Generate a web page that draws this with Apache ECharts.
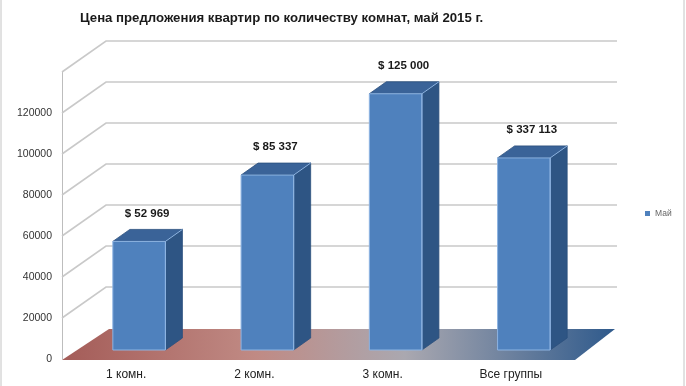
<!DOCTYPE html>
<html>
<head>
<meta charset="utf-8">
<script src="https://cdn.jsdelivr.net/npm/echarts@6/dist/echarts.min.js"></script>
<style>html,body{margin:0;padding:0;background:#fff}#c{width:686px;height:386px}</style>
</head>
<body>
<div id="c"></div>
<script>
var categories = ['1 комн.', '2 комн.', '3 комн.', 'Все группы'];
var values = [52969, 85337, 125000, 93700];
var valueLabels = ['$ 52 969', '$ 85 337', '$ 125 000', '$ 337 113'];
var yTicks = [0, 20000, 40000, 60000, 80000, 100000, 120000, 140000];
var seriesName = 'Май';
var titleText = 'Цена предложения квартир по количеству комнат, май 2015 г.';

var DX = 44, DY = -31;       // depth of the floor / walls
var BX = 13, BY = -9;        // bar front offset
var SX = 17, SY = -12;       // bar depth
var FONT = "'Liberation Sans', Arial, sans-serif";

var chart = echarts.init(document.getElementById('c'), null, {renderer: 'canvas'});

var option = {
  backgroundColor: '#fff',
  animation: false,
  title: {
    text: titleText,
    left: 75, top: 7,
    textStyle: {fontSize: 13.2, fontWeight: 'bold', color: '#1a1a1a', fontFamily: FONT}
  },
  legend: {
    data: [{name: seriesName, icon: 'rect', itemStyle: {color: '#4f81bd'}}],
    left: 640, top: 204,
    itemWidth: 5, itemHeight: 5, itemGap: 3,
    textStyle: {fontSize: 8.5, color: '#666', fontFamily: FONT}
  },
  graphic: [{
    type: 'rect', shape: {x: 1, y: -5, width: 683, height: 400},
    style: {fill: 'none', stroke: '#c4c4c4', lineWidth: 1}, silent: true
  }],
  grid: {left: 62, right: 111, top: 72, bottom: 27},
  xAxis: {
    type: 'category', data: categories,
    axisLine: {show: false}, axisTick: {show: false},
    axisLabel: {fontSize: 12, color: '#222', margin: 10, fontFamily: FONT}
  },
  yAxis: {
    type: 'value', min: 0, max: 140000, interval: 20000,
    axisLine: {show: true, lineStyle: {color: '#bdbdbd', width: 1}},
    axisTick: {show: false},
    splitLine: {show: false},
    axisLabel: {
      fontSize: 10.5, color: '#333', margin: 10, fontFamily: FONT,
      formatter: function (v) { return v === 140000 ? '' : String(v); }
    }
  },
  series: [
    {
      type: 'custom', name: 'grid', silent: true, z: 1,
      data: yTicks.map(function (v) { return [0, v]; }),
      renderItem: function (params, api) {
        var cs = params.coordSys;
        var y = api.coord([0, api.value(1)])[1];
        if (api.value(1) === 0) return null;
        return {
          type: 'polyline',
          shape: {points: [[cs.x, y], [cs.x + DX, y + DY], [cs.x + cs.width + DX - 2, y + DY]]},
          style: {stroke: '#c9c9c9', lineWidth: 1.6, fill: 'none'}
        };
      }
    },
    {
      type: 'custom', name: 'floor', silent: true, z: 2,
      data: [[0, 0]],
      renderItem: function (params, api) {
        var cs = params.coordSys;
        var y0 = api.coord([0, 0])[1] + 1;
        return {
          type: 'polygon',
          shape: {points: [[cs.x, y0], [cs.x + DX + 3, y0 + DY], [cs.x + cs.width + DX - 4, y0 + DY], [cs.x + cs.width, y0]]},
          style: {
            fill: new echarts.graphic.LinearGradient(0, 0, 1, 0, [
              {offset: 0, color: '#a45c58'},
              {offset: 0.35, color: '#c08a84'},
              {offset: 0.62, color: '#aaa8b0'},
              {offset: 1, color: '#2f5a8c'}
            ])
          }
        };
      }
    },
    {
      type: 'custom', name: seriesName, z: 3,
      color: '#4f81bd',
      data: values.map(function (v, i) { return [i, v]; }),
      renderItem: function (params, api) {
        var idx = api.value(0);
        var base = api.coord([idx, 0]);
        var top = api.coord([idx, api.value(1)]);
        var band = api.size([1, 0])[0];
        var w = band * 0.41;
        var cx = base[0] + BX;
        var x0 = cx - w / 2, x1 = cx + w / 2;
        var yb = base[1] + BY, yt = top[1] + BY;
        var edge = '#8db4e2';
        return {
          type: 'group',
          children: [
            {type: 'polygon', shape: {points: [[x1, yb], [x1 + SX, yb + SY], [x1 + SX, yt + SY], [x1, yt]]},
             style: {fill: '#2e5584', stroke: '#2b4f7c', lineWidth: 0.8}},
            {type: 'polygon', shape: {points: [[x0, yt], [x0 + SX, yt + SY], [x1 + SX, yt + SY], [x1, yt]]},
             style: {fill: '#3a6398', stroke: '#2b4f7c', lineWidth: 0.8}},
            {type: 'rect', shape: {x: x0, y: yt, width: w, height: yb - yt},
             style: {fill: '#4f81bd', stroke: edge, lineWidth: 1}},
            {type: 'polyline', shape: {points: [[x1, yb], [x1, yt], [x1 + SX, yt + SY]]},
             style: {stroke: edge, lineWidth: 1, fill: 'none'}},
            {type: 'text', x: cx + 8, y: yt + SY - 10,
             style: {text: valueLabels[idx], fill: '#1a1a1a', fontSize: 11.5, fontWeight: 'bold',
                     fontFamily: FONT, align: 'center', verticalAlign: 'bottom'}}
          ]
        };
      }
    }
  ]
};
chart.setOption(option);
</script>
</body>
</html>
